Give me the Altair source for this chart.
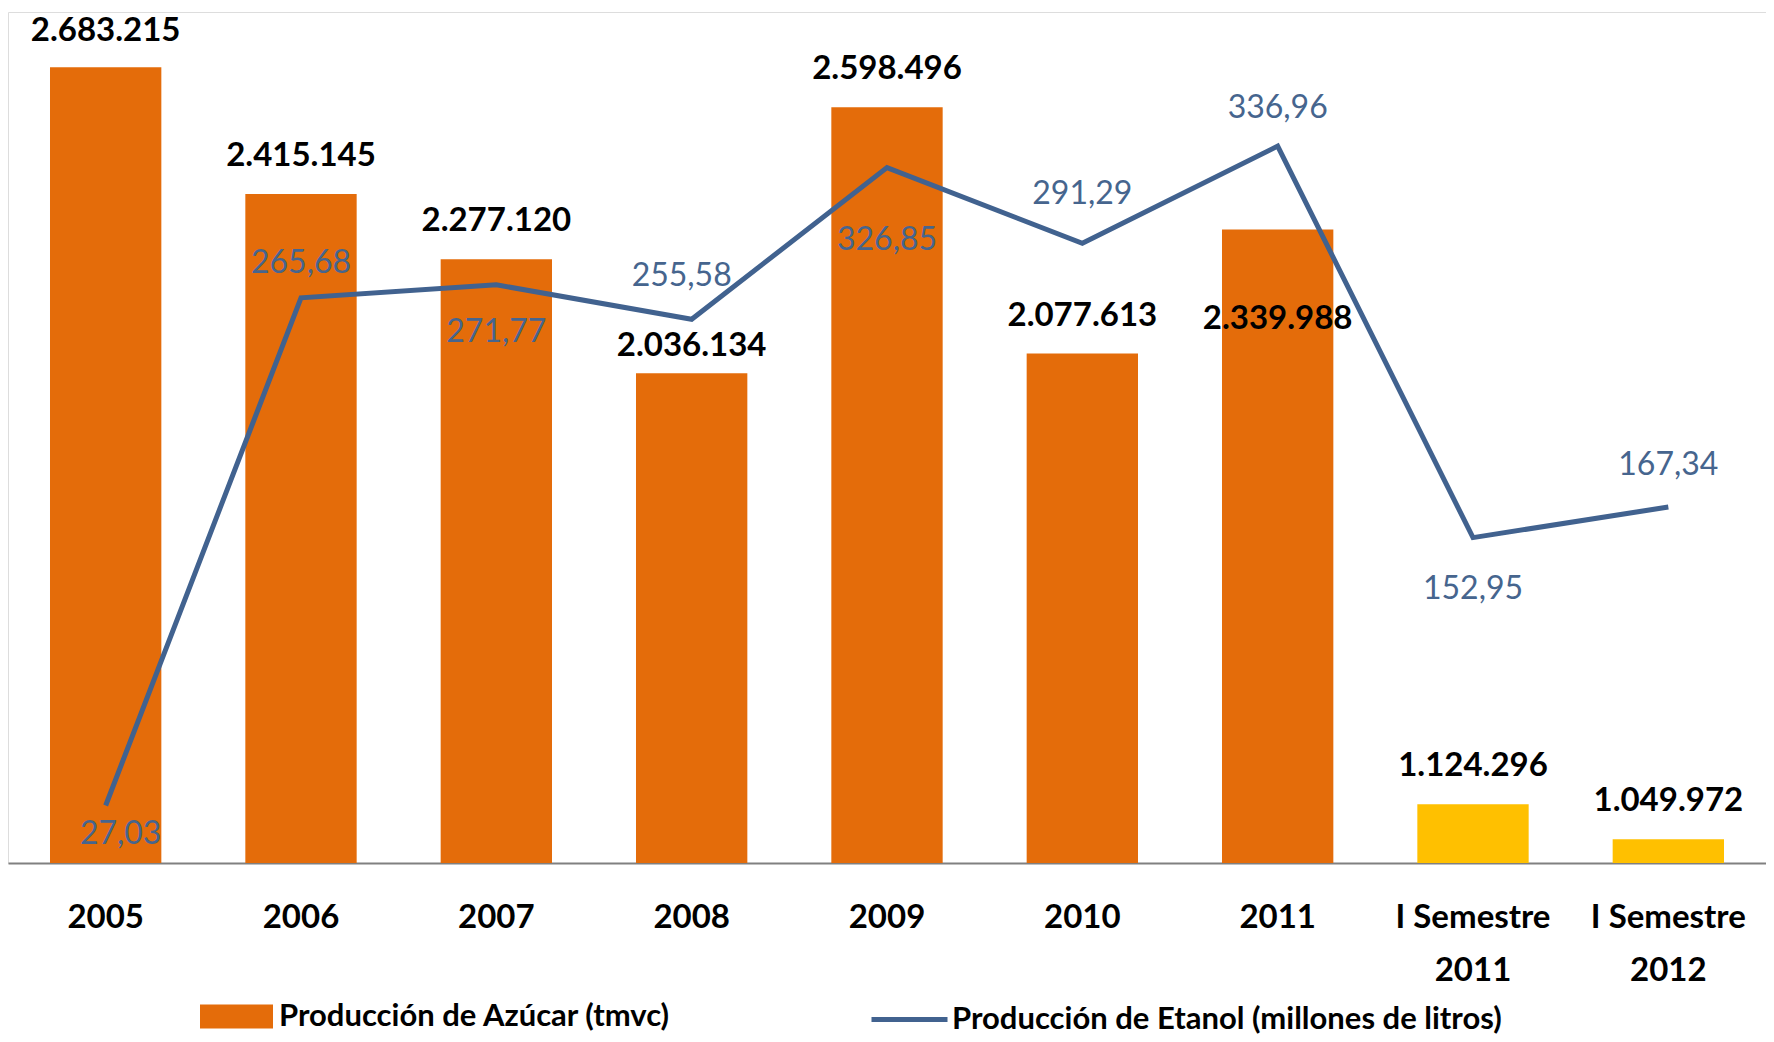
import altair as alt
import pandas as pd

# ---- data ----
categorias = ["2005", "2006", "2007", "2008", "2009", "2010", "2011",
              "I Semestre 2011", "I Semestre 2012"]
semestres = ["I Semestre 2011", "I Semestre 2012"]
azucar = [2683215, 2415145, 2277120, 2036134, 2598496, 2077613, 2339988,
          1124296, 1049972]
etanol = [27.03, 265.68, 271.77, 255.58, 326.85, 291.29, 336.96, 152.95, 167.34]
serie_azucar = "Producción de Azúcar (tmvc)"
serie_etanol = "Producción de Etanol (millones de litros)"

df = pd.DataFrame({
    "cat": categorias,
    "azucar": azucar,
    "etanol": etanol,
    "azucar_lbl": [f"{v:,}".replace(",", ".") for v in azucar],
    "etanol_lbl": [f"{v:.2f}".replace(".", ",") for v in etanol],
    "serie_a": serie_azucar,
    "serie_e": serie_etanol,
})

ORANGE = "#E46C0A"
YELLOW = "#FFC000"
BLUE = "#41628F"
BLUE_TXT = "#46658E"
FONT = "Lato"

x_enc = alt.X(
    "cat:N", sort=categorias,
    scale=alt.Scale(paddingInner=0.43, paddingOuter=0.215),
    axis=alt.Axis(
        orient="bottom",
        title=None, grid=False, ticks=False, tickSize=0, domain=True,
        domainColor="#808080", domainWidth=2,
        labelFont=FONT, labelFontWeight="bold", labelFontSize=33,
        labelColor="black", labelPadding=38, labelBaseline="top",
        labelLineHeight=53, labelAngle=0, labelLimit=400, labelOverlap=False,
        labelExpr="indexof(datum.label, 'Semestre') >= 0 ? "
                  "[slice(datum.label, 0, 10), slice(datum.label, 11)] : datum.label",
    ),
)

y_bar_scale = alt.Scale(domain=[1000000, 2800000], zero=False, nice=False)
y_line_scale = alt.Scale(domain=[0, 400], zero=True, nice=False)

base = alt.Chart(df)

bars = base.mark_bar().encode(
    x=x_enc,
    y=alt.Y("azucar:Q", scale=y_bar_scale, axis=None),
    y2=alt.datum(1000000),
    fill=alt.condition(
        alt.FieldOneOfPredicate(field="cat", oneOf=semestres),
        alt.value(YELLOW),
        alt.Fill("serie_a:N", scale=alt.Scale(range=[ORANGE]),
                 legend=alt.Legend(
                     title=None, orient="none", legendX=192, legendY=968,
                     symbolType="M-1,-0.33H1V0.33H-1Z", symbolSize=5329,
                     symbolStrokeWidth=0, symbolOpacity=1,
                     labelFont=FONT, labelFontWeight="bold", labelFontSize=31,
                     labelColor="black", labelOffset=6, labelLimit=1000,
                     padding=0)),
    ),
)

line = base.mark_line(strokeWidth=5).encode(
    x=x_enc,
    y=alt.Y("etanol:Q", scale=y_line_scale, axis=None),
    stroke=alt.Stroke("serie_e:N", scale=alt.Scale(range=[BLUE]),
                      legend=alt.Legend(
                          title=None, orient="none", legendX=861, legendY=967,
                          symbolType="stroke", symbolSize=5776,
                          symbolStrokeWidth=5,
                          labelFont=FONT, labelFontWeight="bold", labelFontSize=31,
                          labelColor="black", labelOffset=2, labelLimit=1000,
                          padding=0)),
)


def bar_label(cats, dy):
    return base.transform_filter(
        alt.FieldOneOfPredicate(field="cat", oneOf=cats)
    ).mark_text(font=FONT, fontWeight="bold", fontSize=33, color="black",
                baseline="middle", dy=dy).encode(
        x=x_enc,
        y=alt.Y("azucar:Q", scale=y_bar_scale, axis=None),
        text="azucar_lbl:N",
    )


def line_label(cat, dx, dy):
    return base.transform_filter(
        alt.FieldEqualPredicate(field="cat", equal=cat)
    ).mark_text(font=FONT, fontSize=32, color=BLUE_TXT,
                baseline="middle", dx=dx, dy=dy).encode(
        x=x_enc,
        y=alt.Y("etanol:Q", scale=y_line_scale, axis=None),
        text="etanol_lbl:N",
    )


normal_bars = [c for c in categorias if c not in ("2008", "2011")]
bar_labels = [
    bar_label(["2005"], -36),
    bar_label([c for c in normal_bars if c != "2005"], -38),
    bar_label(["2008"], -27),
    bar_label(["2011"], 90),
]

line_offsets = {
    "2005": (15, 29), "2006": (0, -35), "2007": (0, 47), "2008": (-10, -43),
    "2009": (0, 72), "2010": (0, -49), "2011": (0, -38),
    "I Semestre 2011": (0, 51), "I Semestre 2012": (0, -42),
}
line_labels = [line_label(c, dx, dy) for c, (dx, dy) in line_offsets.items()]

chart = alt.layer(bars, line, *bar_labels, *line_labels).resolve_scale(
    y="independent"
).resolve_axis(
    x="shared"
).properties(
    width=1758, height=851,
    autosize=alt.AutoSizeParams(type="none"),
    padding={"left": 0, "top": 4, "right": 0, "bottom": 171},
).configure_view(
    stroke="transparent", strokeWidth=0
).configure_axis(
    domain=False, grid=False, ticks=False
).configure(background="white")

chart.save("out.html", embed_options={"renderer": "svg", "actions": False})
